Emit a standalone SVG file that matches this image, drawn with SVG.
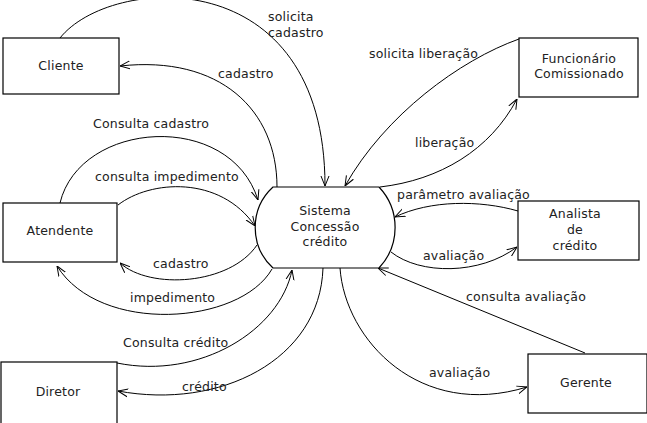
<svg xmlns="http://www.w3.org/2000/svg" width="647" height="423" viewBox="0 0 647 423">
<defs>
<marker id="arr" viewBox="0 0 10 10" refX="10" refY="5" markerWidth="10" markerHeight="10" markerUnits="userSpaceOnUse" orient="auto">
<path d="M0,1 L10,5 L0,9" fill="none" stroke="#000" stroke-width="1"/>
</marker>
<style>
.box{fill:#fff;stroke:#000;stroke-width:1.2}
.t{font-family:"DejaVu Sans","Liberation Sans",sans-serif;font-size:12.5px;fill:#222;letter-spacing:0.2px}
.c{text-anchor:middle}
.e{fill:none;stroke:#000;stroke-width:1;marker-end:url(#arr)}
</style>
</defs>
<rect width="647" height="423" fill="#fff"/>
<g id="connectors">
<path class="e" d="M60,38 C110,-25 325,-40 325,186"/>
<path class="e" d="M277,187 C277,110 220,55 120,66"/>
<path class="e" d="M60,203 C80,120 230,110 258,200"/>
<path class="e" d="M118,205 C150,180 220,175 255,226"/>
<path class="e" d="M257,245 C230,285 150,290 120,263"/>
<path class="e" d="M272,269 C240,325 100,335 57,266"/>
<path class="e" d="M117,363 C200,380 280,330 292,270"/>
<path class="e" d="M323,268 C320,360 220,410 118,391"/>
<path class="e" d="M340,268 C345,340 420,420 527,387"/>
<path class="e" d="M585,353 L378,268"/>
<path class="e" d="M518,211 C480,200 430,200 395,217"/>
<path class="e" d="M391,252 C420,275 480,275 517,247"/>
<path class="e" d="M519,39 C460,60 385,115 345,186"/>
<path class="e" d="M380,187 C440,180 490,150 517,99"/>
<text class="t" x="268" y="21">solicita</text>
<text class="t" x="268" y="37">cadastro</text>
<text class="t" x="218" y="78">cadastro</text>
<text class="t" x="93" y="128">Consulta cadastro</text>
<text class="t" x="95" y="181">consulta impedimento</text>
<text class="t" x="153" y="268">cadastro</text>
<text class="t" x="130" y="302">impedimento</text>
<text class="t" x="123" y="347">Consulta crédito</text>
<text class="t" x="182" y="391">crédito</text>
<text class="t" x="429" y="377">avaliação</text>
<text class="t" x="466" y="301">consulta avaliação</text>
<text class="t" x="397" y="199">parâmetro avaliação</text>
<text class="t" x="423" y="260">avaliação</text>
<text class="t" x="369" y="58">solicita liberação</text>
<text class="t" x="415" y="147">liberação</text>
</g>
<g id="cliente">
<rect class="box" x="3" y="38" width="116" height="56"/>
<text class="t c" x="61" y="70">Cliente</text>
</g>
<g id="funcionario">
<rect class="box" x="519" y="38" width="119" height="59"/>
<text class="t c" x="579" y="63">Funcionário</text>
<text class="t c" x="579" y="78">Comissionado</text>
</g>
<g id="atendente">
<rect class="box" x="3" y="203" width="114" height="59"/>
<text class="t c" x="60" y="235">Atendente</text>
</g>
<g id="sistema">
<path class="box" d="M273,187 L379,187 A59,59 0 0 1 379,268 L273,268 A55,55 0 0 1 273,187 Z"/>
<text class="t c" x="325" y="215">Sistema</text>
<text class="t c" x="325" y="231">Concessão</text>
<text class="t c" x="325" y="246">crédito</text>
</g>
<g id="analista">
<rect class="box" x="518" y="201" width="121" height="59"/>
<text class="t c" x="575" y="218">Analista</text>
<text class="t c" x="575" y="234">de</text>
<text class="t c" x="575" y="250">crédito</text>
</g>
<g id="diretor">
<rect class="box" x="1" y="362" width="116" height="64"/>
<text class="t c" x="58" y="396">Diretor</text>
</g>
<g id="gerente">
<rect class="box" x="528" y="354" width="119" height="59"/>
<text class="t c" x="586" y="387">Gerente</text>
</g>
</svg>
